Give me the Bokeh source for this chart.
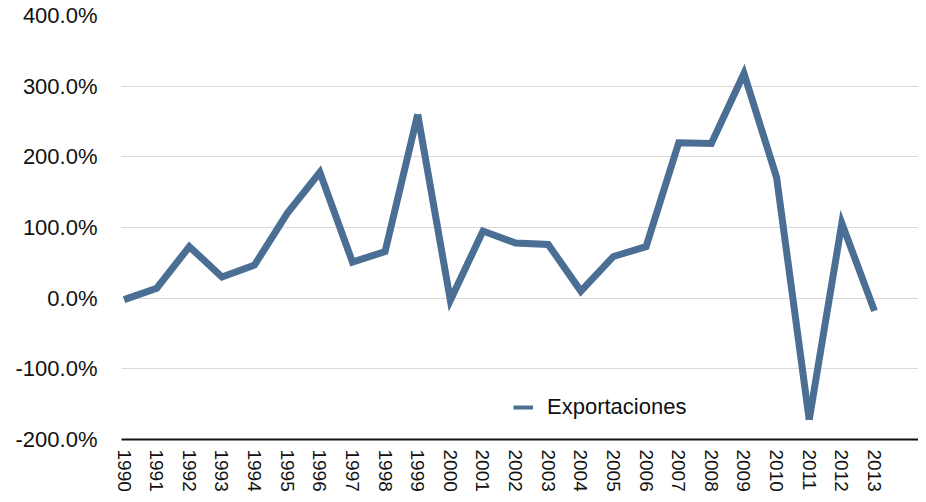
from bokeh.plotting import figure
from bokeh.models import FixedTicker, PrintfTickFormatter, Range1d, Legend, LegendItem
from bokeh.embed import file_html
from bokeh.resources import INLINE

years = ["1990", "1991", "1992", "1993", "1994", "1995", "1996", "1997", "1998", "1999",
         "2000", "2001", "2002", "2003", "2004", "2005", "2006", "2007", "2008", "2009",
         "2010", "2011", "2012", "2013"]
exportaciones = [-2, 14, 73, 30, 47, 120, 178, 51, 66, 260,
                 -3, 95, 78, 76, 10, 59, 73, 220, 219, 318,
                 171, -172, 106, -18]
y_ticks = [-200, -100, 0, 100, 200, 300, 400]

xs = list(range(len(years)))

p = figure(width=918, height=494, output_backend="svg", toolbar_location=None,
           x_range=Range1d(-0.08, 24.35), y_range=Range1d(-200, 400),
           min_border_left=121, min_border_right=0, min_border_top=15, min_border_bottom=20)
p.outline_line_color = None
p.background_fill_color = "white"
p.border_fill_color = "white"

# the line is drawn in pieces split at its sharpest vertices (1999, 2011),
# so those corners are beveled instead of producing very long miter spikes
i1999 = years.index("1999")
i2011 = years.index("2011")
pieces = [(0, i1999 + 1), (i1999, i2011 + 1), (i2011, len(xs))]
for a, b in pieces:
    p.line(xs[a:b], exportaciones[a:b], line_color="#4B6F94", line_width=7,
           line_join="miter", line_cap="butt")
r_leg = p.line([float("nan")], [float("nan")], line_color="#4B6F94", line_width=4)

# x axis
p.xaxis.ticker = FixedTicker(ticks=xs)
p.xaxis.major_label_overrides = {i: y for i, y in enumerate(years)}
p.xaxis.major_label_orientation = "vertical"
p.xaxis.major_label_text_font = "Liberation Sans"
p.xaxis.major_label_text_font_size = "19px"
p.xaxis.major_label_text_color = "#111111"
p.xaxis.major_label_standoff = 10
p.xaxis.major_tick_line_color = None
p.xaxis.major_tick_out = 0
p.xaxis.major_tick_in = 0
p.xaxis.minor_tick_line_color = None
p.xaxis.minor_tick_out = 0
p.xaxis.axis_label_standoff = 0
p.xaxis.axis_label_text_font_size = "0px"
p.xaxis.axis_line_color = "#111111"
p.xaxis.axis_line_width = 2
p.xgrid.grid_line_color = None

# y axis
p.yaxis.ticker = FixedTicker(ticks=y_ticks)
p.yaxis.formatter = PrintfTickFormatter(format="%.1f%%")
p.yaxis.major_label_text_font = "Liberation Sans"
p.yaxis.major_label_text_font_size = "22px"
p.yaxis.major_label_text_color = "#111111"
p.yaxis.major_label_standoff = 24
p.yaxis.major_tick_line_color = None
p.yaxis.major_tick_out = 0
p.yaxis.major_tick_in = 0
p.yaxis.minor_tick_line_color = None
p.yaxis.minor_tick_out = 0
p.yaxis.axis_line_color = None
p.ygrid.ticker = FixedTicker(ticks=y_ticks)
p.ygrid.grid_line_color = "#d9d9d9"
p.ygrid.grid_line_width = 1

legend = Legend(items=[LegendItem(label="Exportaciones", renderers=[r_leg])],
                location=(392, 19))
legend.border_line_color = None
legend.background_fill_alpha = 0
legend.padding = 0
legend.margin = 0
legend.spacing = 0
legend.glyph_width = 20
legend.label_standoff = 14
legend.label_text_font = "Liberation Sans"
legend.label_text_font_size = "22px"
legend.label_text_color = "#111111"
p.add_layout(legend, "center")

open("out.html", "w").write(file_html(p, INLINE))
